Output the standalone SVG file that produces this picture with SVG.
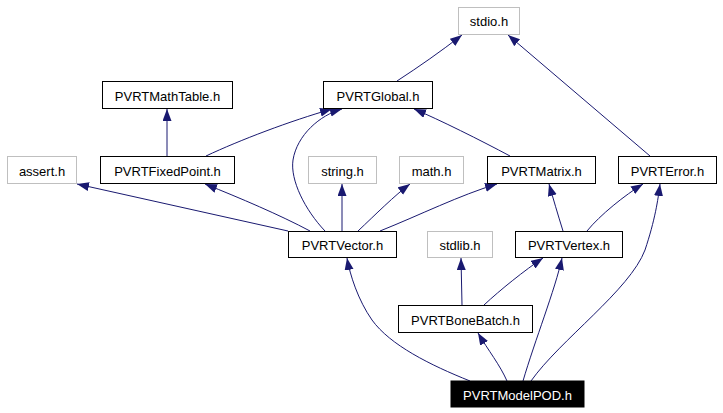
<svg xmlns="http://www.w3.org/2000/svg" width="723" height="413" viewBox="0 0 723 413">
<style>
.n rect{fill:#fff;stroke:#000;stroke-width:1}
.x rect{fill:#fff;stroke:#bfbfbf;stroke-width:1}
.r rect{fill:#000;stroke:#000}
text{font-family:"Liberation Sans",Arial,sans-serif;font-size:13px;text-anchor:middle;fill:#000}
.r text{fill:#fff}
.e path{fill:none;stroke:#191970;stroke-width:1;marker-end:url(#a)}
</style>
<defs>
<marker id="a" markerUnits="userSpaceOnUse" markerWidth="13" markerHeight="10" refX="12" refY="4.5" orient="auto">
<path d="M0,0 L12,4.5 L0,9 z" fill="#191970" stroke="none"/>
</marker>
</defs>
<rect width="723" height="413" fill="#fff"/>
<g class="e" id="edges">
<path d="M397,81 C420,66 440,52 462,35"/>
<path d="M650,156 L508,35"/>
<path d="M167,156 L167,109"/>
<path d="M206,156 C240,140 290,121 332,109"/>
<path d="M325,231 C305,210 290,180 293,160 C297,135 320,115 342,109"/>
<path d="M288,231 L77,184"/>
<path d="M310,231 C280,215 240,198 205,184"/>
<path d="M342,231 L342,184"/>
<path d="M358,231 C375,215 395,195 410,184"/>
<path d="M380,231 C420,215 460,195 497,184"/>
<path d="M510,156 C480,140 440,120 414,109"/>
<path d="M563,231 C558,215 553,198 549,184"/>
<path d="M587,231 C600,215 625,195 643,184"/>
<path d="M531,381 C560,340 630,290 645,250 C655,220 658,200 660,184"/>
<path d="M470,381 C430,365 390,345 372,320 C358,300 350,275 347,258"/>
<path d="M462,305 L461,258"/>
<path d="M484,305 C500,290 525,270 543,258"/>
<path d="M507,381 C500,365 488,350 478,333"/>
<path d="M523,381 C535,340 555,290 562,258"/>
</g>
<g id="stdio" class="x"><rect x="458.5" y="7.5" width="61" height="27"/><text x="489" y="26">stdio.h</text></g>
<g id="mathtable" class="n"><rect x="102.5" y="81.5" width="130" height="27"/><text x="167.5" y="100.5">PVRTMathTable.h</text></g>
<g id="global" class="n"><rect x="323.5" y="81.5" width="109" height="27"/><text x="378" y="100.5">PVRTGlobal.h</text></g>
<g id="assert" class="x"><rect x="7.5" y="156.5" width="69" height="27"/><text x="42" y="175.5">assert.h</text></g>
<g id="fixedpoint" class="n"><rect x="100.5" y="156.5" width="134" height="27"/><text x="167.5" y="175.5">PVRTFixedPoint.h</text></g>
<g id="string" class="x"><rect x="308.5" y="156.5" width="68" height="27"/><text x="342.5" y="175.5">string.h</text></g>
<g id="math" class="x"><rect x="399.5" y="156.5" width="64" height="27"/><text x="431.5" y="175.5">math.h</text></g>
<g id="matrix" class="n"><rect x="487.5" y="156.5" width="108" height="27"/><text x="541.5" y="175.5">PVRTMatrix.h</text></g>
<g id="error" class="n"><rect x="618.5" y="156.5" width="98" height="27"/><text x="667.5" y="175.5">PVRTError.h</text></g>
<g id="vector" class="n"><rect x="288.5" y="231.5" width="108" height="26"/><text x="342.5" y="250">PVRTVector.h</text></g>
<g id="stdlib" class="x"><rect x="427.5" y="231.5" width="65" height="26"/><text x="460" y="250">stdlib.h</text></g>
<g id="vertex" class="n"><rect x="515.5" y="231.5" width="107" height="26"/><text x="569" y="250">PVRTVertex.h</text></g>
<g id="bonebatch" class="n"><rect x="398.5" y="305.5" width="134" height="27"/><text x="465.5" y="324.5">PVRTBoneBatch.h</text></g>
<g id="modelpod" class="r"><rect x="451" y="381" width="133" height="26"/><text x="517.5" y="399.5">PVRTModelPOD.h</text></g>
</svg>
